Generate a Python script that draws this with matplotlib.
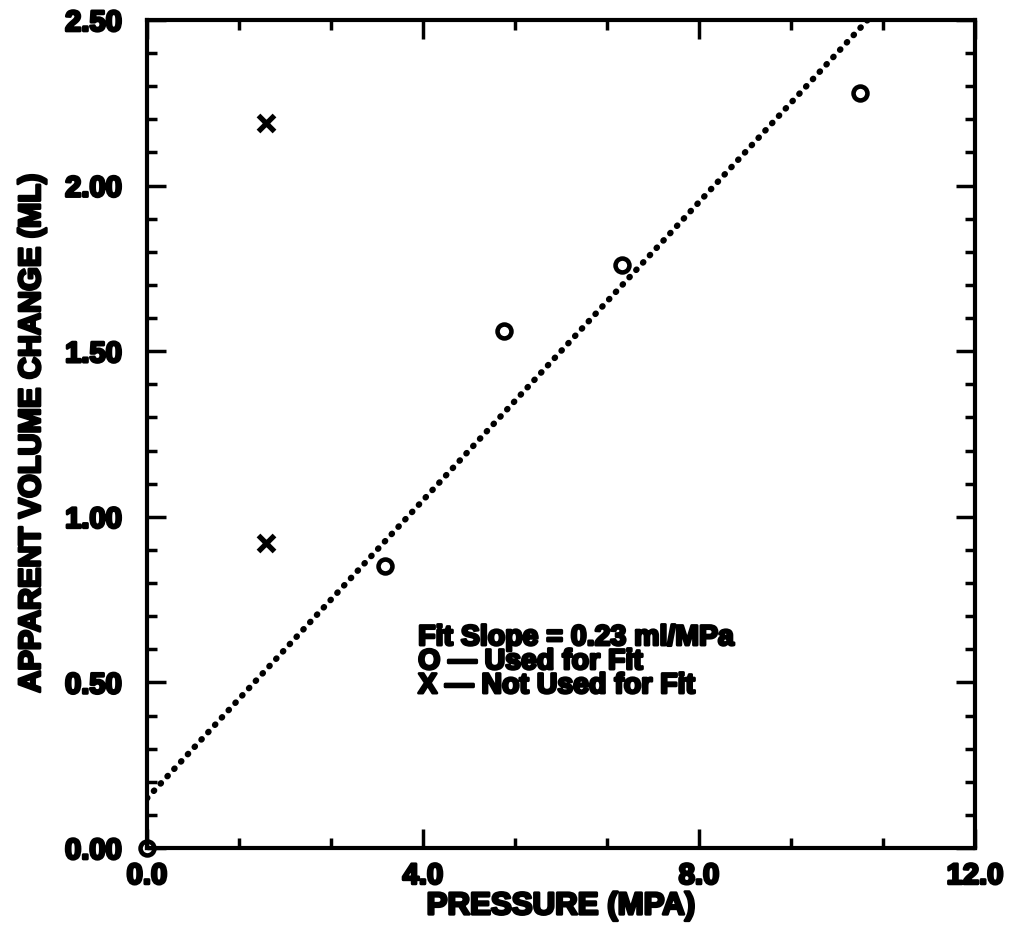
import numpy as np
import matplotlib
matplotlib.use("Agg")
import matplotlib.pyplot as plt
import matplotlib.patheffects as pe
from matplotlib.ticker import MultipleLocator, FixedLocator

# Data
used_x = [0.0, 3.45, 5.17, 6.89, 10.34]
used_y = [0.0, 0.85, 1.56, 1.76, 2.28]
notused_x = [1.72, 1.72]
notused_y = [2.19, 0.92]
fit_slope = 0.225
fit_intercept = 0.15
x_ticks = [0.0, 4.0, 8.0, 12.0]
x_ticklabels = ["0.0", "4.0", "8.0", "12.0"]
y_ticks = [0.0, 0.5, 1.0, 1.5, 2.0, 2.5]
y_ticklabels = ["0.00", "0.50", "1.00", "1.50", "2.00", "2.50"]

plt.rcParams['font.family'] = ['Liberation Sans', 'DejaVu Sans']
plt.rcParams['font.weight'] = 'bold'

heavy = [pe.withStroke(linewidth=2.0, foreground='black')]

fig = plt.figure(figsize=(10.09, 9.46), dpi=100)
ax = fig.add_axes([0.1457, 0.1036, 0.8206, 0.8753])

xs = np.linspace(0, 12, 400)
ys = fit_intercept + fit_slope * xs
ax.plot(xs, ys, color='black', linestyle=(0, (0.1, 1.5)), linewidth=4.5,
        dash_capstyle='round', zorder=2)

ax.plot(used_x, used_y, linestyle='none', marker='o', markersize=10,
        markerfacecolor='none', markeredgecolor='black', markeredgewidth=3.3,
        clip_on=False, zorder=3)
ax.plot(notused_x, notused_y, linestyle='none', marker='x', markersize=12,
        markeredgecolor='black', markeredgewidth=3.8, zorder=3)

ax.set_xlim(0, 12)
ax.set_ylim(0, 2.5)
ax.xaxis.set_major_locator(FixedLocator(x_ticks))
ax.yaxis.set_major_locator(FixedLocator(y_ticks))
ax.xaxis.set_minor_locator(MultipleLocator(4.0 / 3.0))
ax.yaxis.set_minor_locator(MultipleLocator(0.1))
ax.set_xticklabels(x_ticklabels)
ax.set_yticklabels(y_ticklabels)

ax.tick_params(which='both', direction='in', top=True, right=True, width=2.5,
               labelsize=21)
ax.tick_params(axis='y', which='both', pad=18)
ax.tick_params(axis='x', which='both', pad=10)
ax.tick_params(which='major', length=14)
ax.tick_params(which='minor', length=7)
for lab in ax.get_xticklabels() + ax.get_yticklabels():
    lab.set_fontweight('bold')
    lab.set_path_effects(heavy)
for s in ax.spines.values():
    s.set_linewidth(3)

ax.set_xlabel("PRESSURE (MPA)", fontsize=22.5, fontweight='bold', labelpad=1,
              path_effects=heavy)
ax.set_ylabel("APPARENT VOLUME CHANGE (ML)", fontsize=22, fontweight='bold', labelpad=13,
              path_effects=heavy)

ax.text(3.93, 0.673, "Fit Slope = 0.23 ml/MPa\nO \u2014 Used for Fit\nX \u2014 Not Used for Fit",
        fontsize=20.5, fontweight='bold', va='top', ha='left', linespacing=0.9,
        path_effects=heavy)

fig.savefig("out.png", dpi=100)
